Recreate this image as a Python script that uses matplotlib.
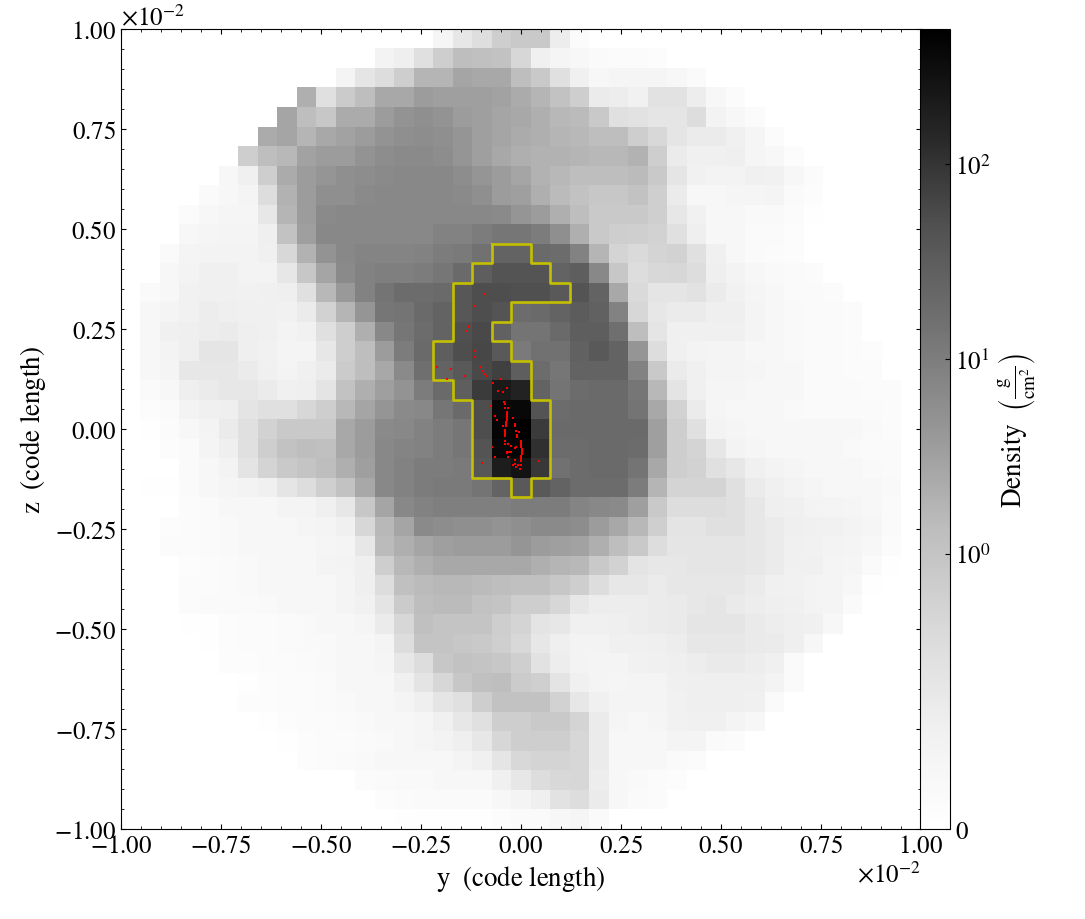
import matplotlib

matplotlib.use("Agg")
import matplotlib.pyplot as plt
import numpy as np
from matplotlib.colors import SymLogNorm
from matplotlib.ticker import MultipleLocator, NullLocator

plt.rcParams["font.family"] = "STIXGeneral"
plt.rcParams["mathtext.fontset"] = "stix"
plt.rcParams["font.size"] = 18

# projected density: per row, first column and then the
# cell values as percent of colourbar height (top row first, unlisted cells empty)
level_rows = [
    (16, [8, 17, 22, 30, 32, 32, 14, 3]),
    (13, [10, 13, 21, 30, 37, 36, 35, 26, 12, 8, 6, 4, 3, 3, 2]),
    (11, [9, 18, 23, 30, 40, 40, 45, 44, 44, 37, 32, 21, 12, 7, 8, 8, 8, 6, 4]),
    (9, [42, 21, 31, 37, 44, 44, 48, 47, 47, 47, 46, 43, 40, 35, 30, 15, 14, 11, 20, 20, 14, 6, 3]),
    (8, [45, 37, 33, 43, 43, 48, 51, 52, 51, 48, 47, 45, 44, 42, 39, 38, 32, 21, 20, 18, 18, 23, 10, 7, 3]),
    (7, [43, 45, 40, 44, 46, 48, 51, 52, 53, 52, 50, 47, 45, 43, 42, 40, 39, 37, 37, 30, 25, 18, 15, 15, 12, 8, 3]),
    (6, [30, 37, 39, 46, 48, 48, 51, 53, 54, 54, 53, 50, 47, 44, 42, 41, 41, 40, 39, 39, 41, 30, 15, 12, 12, 13, 8, 6, 2]),
    (5, [7, 12, 30, 43, 48, 50, 52, 53, 54, 55, 55, 55, 53, 50, 48, 45, 41, 39, 37, 37, 37, 38, 32, 18, 11, 10, 10, 12, 11, 7, 3]),
    (4, [4, 7, 9, 23, 41, 48, 52, 52, 54, 55, 55, 55, 55, 54, 52, 48, 47, 42, 38, 35, 33, 33, 35, 29, 15, 7, 7, 8, 8, 9, 4, 2]),
    (3, [3, 6, 8, 8, 17, 40, 48, 54, 55, 55, 55, 55, 55, 55, 55, 55, 54, 50, 48, 42, 37, 32, 32, 32, 29, 17, 11, 6, 6, 5, 5, 3, 1]),
    (3, [6, 8, 9, 9, 13, 35, 47, 55, 55, 55, 55, 55, 55, 57, 57, 59, 61, 61, 59, 52, 42, 32, 30, 29, 28, 21, 13, 7, 6, 4, 4, 2]),
    (2, [4, 9, 10, 10, 10, 12, 25, 41, 51, 55, 56, 56, 56, 57, 59, 60, 63, 68, 68, 66, 65, 57, 40, 27, 24, 27, 28, 21, 12, 6, 4, 3, 2]),
    (2, [6, 10, 12, 12, 10, 10, 17, 33, 45, 54, 57, 58, 58, 59, 61, 66, 70, 74, 74, 74, 68, 70, 55, 33, 23, 25, 26, 23, 13, 10, 7, 5, 4, 3]),
    (1, [4, 7, 11, 12, 12, 11, 12, 13, 21, 39, 49, 57, 62, 65, 65, 66, 73, 76, 76, 75, 75, 72, 74, 68, 44, 24, 18, 18, 20, 15, 11, 8, 6, 4, 4, 3]),
    (1, [6, 9, 11, 14, 13, 12, 12, 11, 15, 28, 40, 50, 61, 62, 66, 68, 73, 76, 74, 65, 66, 68, 71, 69, 57, 26, 17, 15, 15, 13, 13, 9, 7, 5, 4, 4, 3]),
    (1, [6, 12, 13, 14, 15, 13, 12, 10, 11, 21, 30, 42, 55, 61, 65, 68, 75, 77, 69, 62, 62, 66, 70, 70, 64, 37, 18, 12, 12, 12, 12, 9, 7, 5, 4, 4, 3]),
    (1, [7, 10, 13, 18, 18, 13, 11, 9, 9, 17, 30, 37, 48, 59, 66, 70, 76, 78, 72, 60, 63, 63, 69, 72, 68, 50, 23, 12, 10, 9, 9, 7, 6, 5, 4, 4, 3, 2]),
    (1, [6, 9, 17, 17, 17, 15, 12, 10, 12, 15, 31, 37, 44, 54, 64, 68, 72, 77, 80, 70, 65, 61, 68, 68, 68, 57, 32, 15, 12, 9, 9, 8, 6, 6, 4, 4, 3, 3]),
    (1, [4, 6, 13, 15, 17, 17, 15, 12, 13, 19, 35, 42, 47, 51, 59, 66, 70, 81, 91, 88, 68, 62, 65, 66, 66, 61, 39, 19, 12, 8, 8, 7, 6, 6, 4, 4, 4, 3, 3]),
    (1, [2, 4, 10, 12, 13, 19, 21, 21, 26, 30, 39, 45, 50, 54, 55, 61, 66, 76, 97, 97, 74, 65, 66, 66, 66, 62, 44, 28, 15, 8, 6, 6, 6, 5, 4, 4, 4, 4, 3]),
    (1, [1, 3, 7, 10, 15, 21, 28, 32, 32, 32, 44, 48, 54, 55, 57, 59, 61, 76, 98, 100, 81, 66, 66, 66, 66, 66, 47, 30, 21, 10, 8, 7, 7, 7, 7, 7, 6, 5, 3]),
    (2, [2, 4, 9, 13, 21, 30, 35, 37, 36, 44, 48, 55, 56, 57, 59, 61, 74, 97, 98, 84, 65, 65, 66, 66, 65, 47, 30, 27, 17, 10, 8, 7, 7, 7, 6, 5, 4, 4]),
    (3, [4, 6, 10, 19, 27, 32, 34, 37, 42, 47, 55, 57, 59, 59, 60, 73, 90, 93, 82, 63, 65, 66, 66, 62, 44, 30, 28, 21, 17, 12, 10, 8, 7, 7, 6, 5, 4]),
    (1, [1, 1, 4, 6, 8, 10, 12, 18, 23, 29, 35, 44, 55, 57, 59, 60, 60, 62, 68, 72, 72, 68, 65, 65, 65, 59, 40, 27, 27, 27, 21, 15, 12, 10, 8, 7, 7, 7, 5]),
    (3, [3, 4, 6, 7, 7, 9, 9, 12, 17, 33, 45, 55, 57, 58, 58, 58, 58, 59, 59, 59, 56, 55, 54, 47, 32, 23, 23, 23, 21, 17, 13, 12, 10, 9, 8, 7, 4]),
    (2, [2, 3, 4, 5, 6, 6, 7, 8, 9, 12, 26, 39, 45, 54, 53, 52, 52, 51, 52, 54, 54, 53, 48, 44, 39, 29, 19, 19, 21, 21, 17, 15, 13, 12, 11, 10, 8, 4]),
    (2, [3, 3, 4, 5, 6, 6, 6, 7, 8, 9, 17, 38, 42, 45, 47, 48, 48, 48, 50, 48, 47, 46, 42, 37, 32, 23, 18, 18, 18, 18, 17, 15, 12, 11, 10, 9, 7, 3]),
    (3, [2, 3, 4, 5, 6, 7, 7, 9, 10, 13, 30, 39, 42, 44, 44, 44, 44, 44, 42, 40, 39, 32, 28, 19, 17, 17, 18, 18, 18, 17, 15, 12, 12, 9, 8, 4, 1]),
    (3, [3, 3, 4, 5, 6, 6, 7, 7, 9, 13, 23, 36, 38, 39, 39, 38, 37, 36, 36, 33, 30, 23, 17, 17, 15, 17, 17, 17, 17, 15, 12, 11, 10, 9, 7, 1]),
    (3, [3, 4, 4, 4, 5, 6, 7, 7, 9, 11, 19, 31, 37, 38, 38, 35, 34, 30, 30, 26, 17, 14, 14, 14, 15, 16, 17, 18, 16, 14, 13, 12, 10, 9, 4]),
    (3, [1, 1, 2, 3, 3, 4, 5, 6, 7, 8, 15, 26, 36, 34, 34, 34, 30, 27, 19, 17, 12, 12, 13, 14, 15, 16, 18, 18, 18, 16, 14, 13, 12, 6]),
    (4, [1, 2, 3, 3, 4, 5, 5, 6, 7, 9, 23, 34, 34, 33, 32, 29, 25, 17, 13, 10, 10, 12, 12, 13, 14, 17, 17, 17, 16, 15, 13, 7]),
    (5, [2, 2, 3, 3, 4, 5, 6, 6, 8, 17, 23, 33, 35, 34, 33, 29, 20, 14, 10, 9, 9, 11, 12, 13, 14, 16, 16, 14, 12, 4]),
    (6, [1, 2, 3, 3, 4, 6, 6, 7, 12, 19, 26, 33, 36, 37, 31, 29, 19, 12, 9, 8, 9, 9, 12, 13, 13, 13, 13, 10, 4]),
    (6, [2, 2, 3, 3, 4, 5, 6, 7, 9, 13, 18, 21, 30, 35, 35, 35, 28, 17, 12, 9, 9, 9, 11, 13, 13, 13, 12, 4]),
    (7, [1, 2, 3, 3, 4, 5, 6, 7, 8, 12, 17, 21, 30, 30, 32, 32, 27, 15, 8, 7, 8, 11, 12, 12, 9, 6]),
    (8, [1, 2, 3, 3, 4, 5, 6, 8, 10, 13, 17, 26, 30, 30, 30, 26, 15, 7, 6, 7, 9, 9, 4, 3]),
    (9, [2, 3, 4, 5, 6, 7, 7, 7, 9, 12, 18, 25, 27, 27, 26, 15, 7, 6, 6, 4, 3]),
    (12, [3, 4, 5, 5, 6, 6, 7, 12, 17, 23, 25, 26, 14, 7, 5, 3, 2]),
    (13, [2, 3, 4, 4, 4, 4, 7, 9, 13, 20, 23, 15, 7, 4, 3]),
    (14, [1, 1, 1, 1, 1, 2, 4, 4, 6, 8, 4]),
]

# yellow outline, as column and row numbers of the cell edges it follows
clump_cols = [19, 21, 21, 22, 22, 23, 23, 20, 20, 19, 19, 20, 20, 21, 21, 22, 22, 21, 21, 20, 20, 18, 18, 17, 17, 16, 16, 17, 17, 18, 18, 19, 19]
clump_rows = [11, 11, 12, 12, 13, 13, 14, 14, 15, 15, 16, 16, 17, 17, 19, 19, 23, 23, 24, 24, 23, 23, 19, 19, 18, 18, 16, 16, 13, 13, 12, 12, 11]

# red particles, in units of 1e-2 code length
star_y = [
    -0.0912, -0.114, -0.130, -0.130, -0.1346, -0.116, -0.1154, -0.2096, -0.1754, -0.1396, -0.1854,
    -0.1004, -0.0954, -0.0904, -0.0854, -0.0504, -0.0712, -0.0354, -0.058, -0.0454, -0.043, -0.0396,
    -0.0746, -0.0404, -0.032, -0.036, -0.036, -0.036, -0.036, -0.064, -0.0588, -0.0196, -0.037, -0.038,
    -0.0454, -0.0146, -0.0138, -0.0388, -0.0388, -0.0388, -0.012, -0.0112, -0.0096, -0.0046, -0.0012,
    0.0004, 0.0012, 0.002, 0.002, 0.0004, -0.0012, -0.0388, -0.0388, -0.033, -0.073, -0.0238, -0.0162,
    -0.013, -0.0362, -0.0312, -0.0246, -0.0662, -0.032, -0.0162, 0.0446, -0.0987, -0.0204, -0.0138,
    -0.008, -0.0012, -0.013, -0.003,
    -0.036, -0.036, -0.036, -0.036, -0.038, -0.038, -0.0388, -0.0388, -0.0388, -0.0388,
    0.0, 0.0008, 0.0015, 0.002, 0.0012, -0.0004, -0.034, -0.028,
]
star_z = [
    0.338, 0.3075, 0.258, 0.254, 0.244, 0.194, 0.18, 0.154, 0.151, 0.133, 0.124,
    0.154, 0.144, 0.138, 0.132, 0.125, 0.114, 0.102, 0.095, 0.0925, 0.068, 0.0625,
    0.0575, 0.053, 0.0517, 0.0433, 0.0375, 0.0317, 0.025, 0.0333, 0.0233, 0.0283, 0.0183, 0.0083,
    0.0067, 0.0125, 0.0083, -0.0042, -0.01, -0.015, -0.0042, -0.015, -0.0208, -0.0083, -0.0292,
    -0.0375, -0.0458, -0.0542, -0.0625, -0.0708, -0.0792, -0.0292, -0.0375, -0.0375, -0.0442, -0.0433, -0.0475,
    -0.0458, -0.0567, -0.0583, -0.0567, -0.0692, -0.07, -0.0767, -0.0792, -0.0858, -0.09, -0.0883,
    -0.09, -0.09, -0.0958, -0.1,
    0.04, 0.0342, 0.0283, 0.0217, 0.015, 0.0117, -0.0017, -0.0067, -0.0125, -0.0183,
    -0.0333, -0.0417, -0.05, -0.0583, -0.0667, -0.075, -0.06, -0.0567,
]

n_cells = 41
half_width = 0.01

norm = SymLogNorm(linthresh=0.5, linscale=1.0, vmin=0.0, vmax=493.0, base=10)
levels = np.zeros((n_cells, n_cells))
for row, (start, values) in enumerate(level_rows):
    levels[row, start:start + len(values)] = values
density = norm.inverse(levels / 100.0)

fig = plt.figure(figsize=(10.85, 9.2), dpi=100)
ax = fig.add_axes([121 / 1085, 1 - 830 / 920, 800 / 1085, 800 / 920])
cax = fig.add_axes([920 / 1085, 1 - 830 / 920, 30 / 1085, 800 / 920])

extent = [-half_width, half_width, -half_width, half_width]
im = ax.imshow(density, origin="upper", extent=extent, cmap="Greys", norm=norm, interpolation="nearest")

cell = 2 * half_width / n_cells
clump_y = -half_width + np.array(clump_cols) * cell
clump_z = half_width - np.array(clump_rows) * cell
ax.plot(clump_y, clump_z, color="#c4c000", linewidth=1.9, solid_joinstyle="round", zorder=3)
ax.scatter(np.array(star_y) * 0.01, np.array(star_z) * 0.01, s=2.6, marker="s", color="#ff0000", linewidths=0, zorder=4)

ax.set_xlim(-half_width, half_width)
ax.set_ylim(-half_width, half_width)
for axis in (ax.xaxis, ax.yaxis):
    axis.set_major_locator(MultipleLocator(0.0025))
    axis.set_minor_locator(MultipleLocator(0.0005))
ax.ticklabel_format(style="sci", scilimits=(0, 0), useMathText=True)
ax.tick_params(which="both", direction="in", top=True, right=True, labelsize=18)
ax.xaxis.get_offset_text().set_fontsize(18)
ax.yaxis.get_offset_text().set_fontsize(18)
ax.set_xlabel(r"$\mathrm{y}\ \ \left(\mathrm{code\ length}\right)$", fontsize=19.4)
ax.set_ylabel(r"$\mathrm{z}\ \ \left(\mathrm{code\ length}\right)$", fontsize=19.4)

cb = fig.colorbar(im, cax=cax)
cb.set_ticks([0, 1, 10, 100], labels=["$0$", "$10^{0}$", "$10^{1}$", "$10^{2}$"])
cax.yaxis.set_minor_locator(NullLocator())
cax.tick_params(direction="in", labelsize=18)
cb.set_label(r"$\mathrm{Density}\ \ \left(\frac{\mathrm{g}}{\mathrm{cm}^{2}}\right)$", fontsize=19.5)

fig.savefig("out.png", dpi=100)
